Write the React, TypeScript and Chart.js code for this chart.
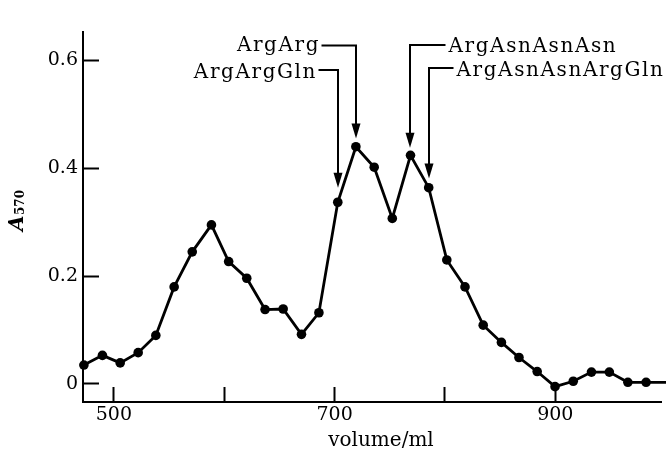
import React, { useEffect, useRef } from 'react';
import { Chart, registerables } from 'chart.js';

Chart.register(...registerables);

// Elution volume (ml) and absorbance at 570 nm
const volumes = [
  472.8, 489.6, 505.7, 522, 538, 554.6, 571, 588.4, 604, 620.4, 637, 653.4, 670, 685.8,
  702.9, 719.3, 735.9, 752.3, 768.8, 785.3, 801.7, 818.2, 834.7, 851.2, 867.1, 883.6,
  899.8, 916.3, 932.8, 949, 965.8, 982.3, 1002,
];
const absorbance = [
  0.035, 0.053, 0.039, 0.058, 0.09, 0.18, 0.245, 0.295, 0.227, 0.196, 0.138, 0.139, 0.092, 0.132,
  0.337, 0.44, 0.402, 0.307, 0.424, 0.364, 0.23, 0.18, 0.109, 0.077, 0.049, 0.023,
  -0.005, 0.005, 0.022, 0.022, 0.003, 0.003, 0.003,
];
// last entry only continues the trace to the frame edge (no marker)
const markerShown = volumes.map((_, i) => i < volumes.length - 1);

const xTicks = [500, 600, 700, 800, 900];
const xTickLabels = ['500', '', '700', '', '900'];
const yTicks = [0, 0.2, 0.4, 0.6];
const yTickLabels = ['0', '0.2', '0.4', '0.6'];
const xTitle = 'volume/ml';

// peak annotations: label, index of the marked point, arrow tip (A570), side, row
const peakLabels = ['ArgArg', 'ArgArgGln', 'ArgAsnAsnAsn', 'ArgAsnAsnArgGln'];
const peakIndex = [15, 14, 18, 19];
const peakTip = [0.455, 0.364, 0.438, 0.381];
const peakSide = ['left', 'left', 'right', 'right'];
const peakRow = [0, 1, 0, 1];

const SERIF = "'DejaVu Serif', 'Liberation Serif', serif";

const annotationPlugin = {
  id: 'peakAnnotations',
  afterDatasetsDraw(chart: any) {
    const ctx = chart.ctx as CanvasRenderingContext2D;
    const xs = chart.scales.x;
    const ys = chart.scales.y;
    ctx.save();
    ctx.strokeStyle = '#000';
    ctx.fillStyle = '#000';
    ctx.lineWidth = 2;
    ctx.font = `20px ${SERIF}`;
    const spacing = 1.6;
    (ctx as any).letterSpacing = `${spacing}px`;
    ctx.textBaseline = 'alphabetic';
    // layout of label rows (pixels)
    const rowLineLeft = [45.5, 70];
    const rowLineRight = [45, 68];
    const baseLeft = [51, 78];
    const baseRight = [51.5, 75.5];
    const textEndLeft = [318.5, 315.5];
    const textStartRight = [448.5, 456.5];
    for (let k = 0; k < peakLabels.length; k++) {
      const ax = Math.round(xs.getPixelForValue(volumes[peakIndex[k]]));
      const tipY = ys.getPixelForValue(peakTip[k]);
      const r = peakRow[k];
      const label = peakLabels[k];
      const w = ctx.measureText(label).width - spacing;
      let lineY: number;
      ctx.textAlign = 'left';
      if (peakSide[k] === 'left') {
        lineY = rowLineLeft[r];
        ctx.fillText(label, textEndLeft[r] - w, baseLeft[r]);
        ctx.beginPath();
        ctx.moveTo(textEndLeft[r] + 3, lineY);
        ctx.lineTo(ax, lineY);
        ctx.lineTo(ax, tipY - 12);
        ctx.stroke();
      } else {
        lineY = rowLineRight[r];
        ctx.fillText(label, textStartRight[r], baseRight[r]);
        ctx.beginPath();
        ctx.moveTo(textStartRight[r] - 3, lineY);
        ctx.lineTo(ax, lineY);
        ctx.lineTo(ax, tipY - 12);
        ctx.stroke();
      }
      // arrow head
      ctx.beginPath();
      ctx.moveTo(ax, tipY);
      ctx.lineTo(ax - 4.5, tipY - 15);
      ctx.lineTo(ax + 4.5, tipY - 15);
      ctx.closePath();
      ctx.fill();
    }
    (ctx as any).letterSpacing = '0px';
    // x-axis title
    ctx.font = `20px ${SERIF}`;
    ctx.textAlign = 'center';
    ctx.textBaseline = 'middle';
    ctx.fillText(xTitle, 381, 441);
    // y-axis title: A570 (italic A, subscript 570), rotated
    ctx.textBaseline = 'alphabetic';
    ctx.translate(22.5, 231);
    ctx.rotate(-Math.PI / 2);
    ctx.textAlign = 'left';
    ctx.font = `italic bold 20px ${SERIF}`;
    ctx.fillText('A', 0, 0);
    const aw = ctx.measureText('A').width;
    ctx.font = `bold 12px ${SERIF}`;
    ctx.fillText('570', aw + 0.5, 1);
    ctx.restore();
  },
};

export default function App() {
  const canvasRef = useRef<HTMLCanvasElement | null>(null);

  useEffect(() => {
    const canvas = canvasRef.current;
    if (!canvas) return;
    const chart = new Chart(canvas, {
      type: 'scatter',
      data: {
        datasets: [
          {
            data: volumes.map((v, i) => ({ x: v, y: absorbance[i] })),
            showLine: true,
            borderColor: '#000',
            backgroundColor: '#000',
            borderWidth: 2.8,
            pointRadius: markerShown.map((s) => (s ? 4.8 : 0)),
            pointHoverRadius: 0,
            pointBorderWidth: 0,
            tension: 0,
            clip: false as any,
          },
        ],
      },
      options: {
        animation: false,
        responsive: false,
        maintainAspectRatio: false,
        events: [],
        layout: { padding: { top: 13, right: 0, left: 0, bottom: 0 } },
        plugins: { legend: { display: false }, tooltip: { enabled: false } },
        scales: {
          x: {
            type: 'linear',
            min: 472,
            max: 996,
            afterBuildTicks: (s: any) => {
              s.ticks = xTicks.map((v) => ({ value: v }));
            },
            afterFit: (s: any) => {
              s.height = 57;
            },
            ticks: {
              callback: (v: any) => {
                const i = xTicks.indexOf(Number(v));
                return i >= 0 ? xTickLabels[i] : '';
              },
              font: { family: SERIF, size: 19 },
              color: '#000',
              padding: 17,
              maxRotation: 0,
              autoSkip: false,
            },
            grid: {
              drawOnChartArea: false,
              drawTicks: true,
              tickLength: -15,
              tickWidth: 2,
              tickColor: '#000',
            },
            border: { display: true, color: '#000', width: 2 },
          },
          y: {
            type: 'linear',
            min: -0.0335,
            max: 0.652,
            afterBuildTicks: (s: any) => {
              s.ticks = yTicks.map((v) => ({ value: v }));
            },
            afterFit: (s: any) => {
              s.width = 83;
            },
            ticks: {
              callback: (v: any) => {
                const i = yTicks.findIndex((t) => Math.abs(t - Number(v)) < 1e-9);
                return i >= 0 ? yTickLabels[i] : '';
              },
              font: { family: SERIF, size: 19 },
              color: '#000',
              padding: 21,
              autoSkip: false,
            },
            grid: {
              drawOnChartArea: false,
              drawTicks: true,
              tickLength: -16,
              tickWidth: 2,
              tickColor: '#000',
            },
            border: { display: true, color: '#000', width: 2 },
          },
        },
      },
      plugins: [annotationPlugin],
    });
    return () => chart.destroy();
  }, []);

  return (
    <div style={{ position: 'fixed', left: 0, top: 0, width: 666, height: 459, background: '#fff' }}>
      <canvas ref={canvasRef} width={666} height={459} style={{ width: 666, height: 459, display: 'block' }} />
    </div>
  );
}
